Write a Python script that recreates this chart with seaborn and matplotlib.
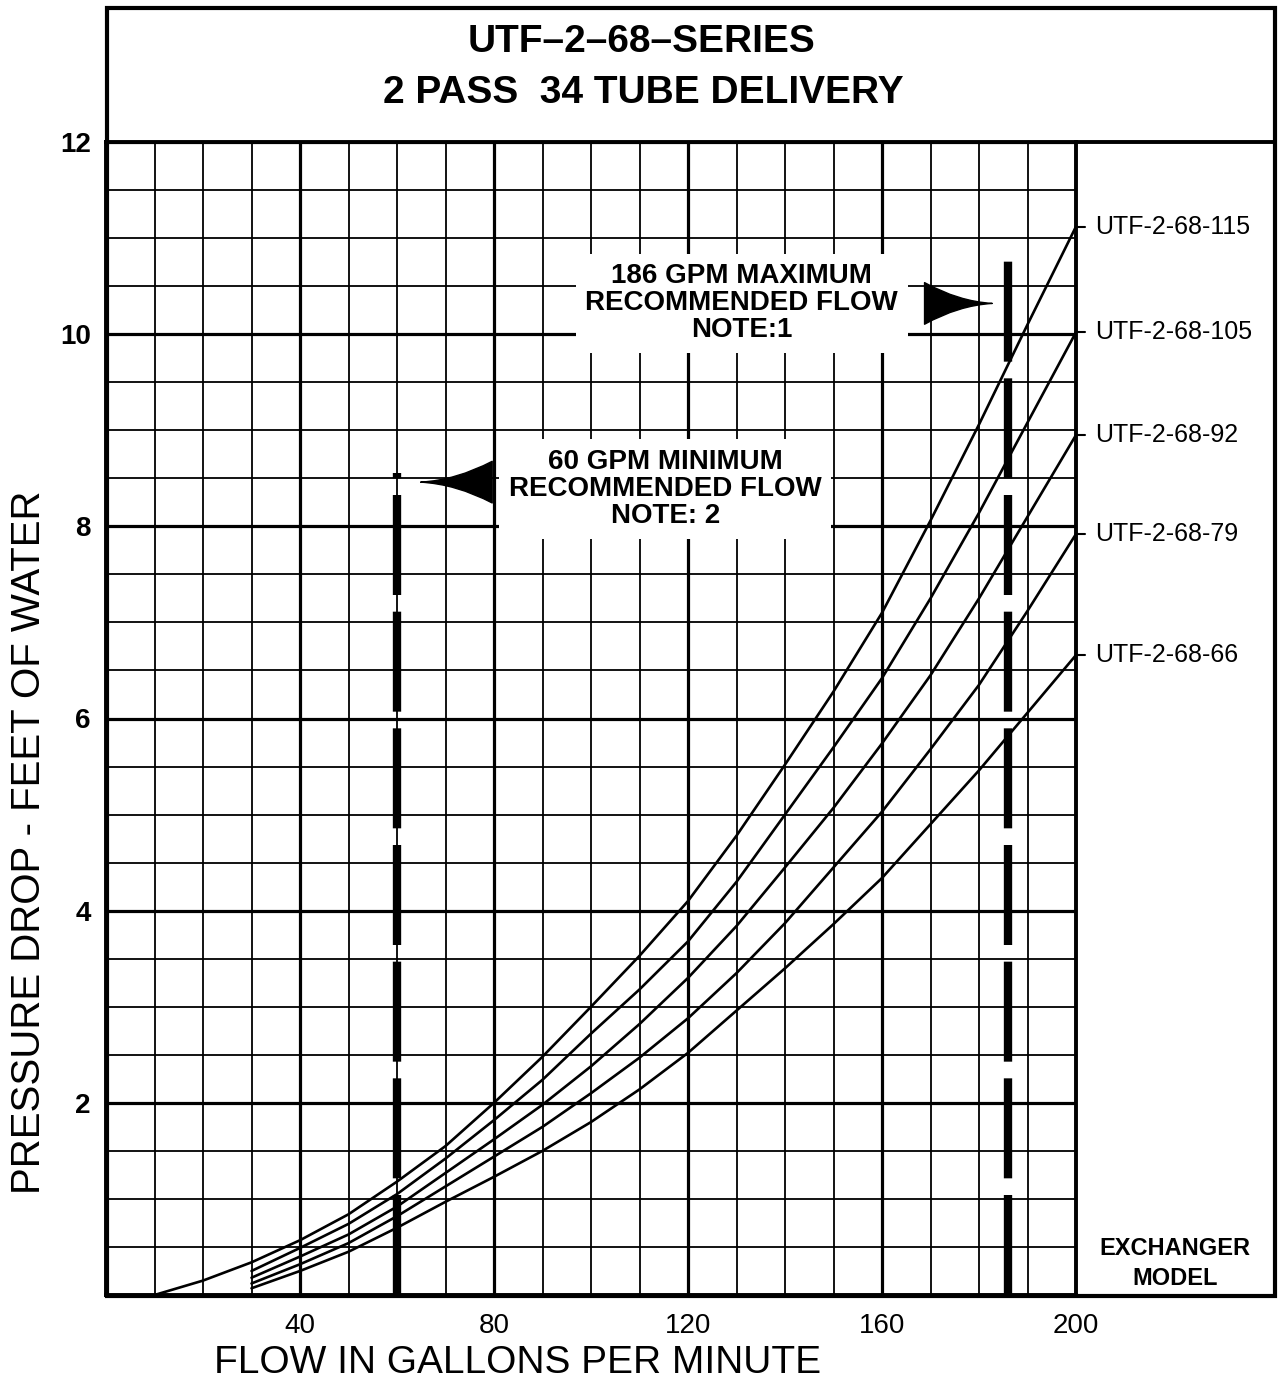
import matplotlib
matplotlib.use("Agg")
import matplotlib.pyplot as plt
import pandas as pd
import seaborn as sns
from matplotlib.lines import Line2D
from matplotlib.patches import Rectangle
from matplotlib.ticker import MultipleLocator


# flow (gpm) where the five exchanger curves are read
flow_gpm = [30, 40, 50, 60, 70, 80, 90, 100, 110, 120, 130, 140, 150, 160, 170, 180, 190, 200]

# shared lead-in below 30 gpm (drawn as part of the top curve)
lead_in_flow = [10, 20]
lead_in_drop = [0.0, 0.15]

# pressure drop, feet of water
drop_115 = [0.34, 0.57, 0.84, 1.18, 1.55, 2.00, 2.48, 3.00, 3.53, 4.10, 4.78, 5.52, 6.28, 7.10, 8.06, 9.06, 10.10, 11.12]
drop_105 = [0.25, 0.49, 0.74, 1.05, 1.42, 1.82, 2.24, 2.72, 3.18, 3.68, 4.30, 5.00, 5.70, 6.42, 7.25, 8.14, 9.08, 10.02]
drop_92 = [0.18, 0.40, 0.63, 0.92, 1.27, 1.62, 1.98, 2.38, 2.82, 3.30, 3.84, 4.45, 5.07, 5.74, 6.45, 7.25, 8.10, 8.95]
drop_79 = [0.12, 0.32, 0.54, 0.82, 1.13, 1.44, 1.75, 2.10, 2.47, 2.88, 3.35, 3.87, 4.45, 5.03, 5.68, 6.35, 7.12, 7.92]
drop_66 = [0.07, 0.25, 0.45, 0.70, 0.97, 1.23, 1.50, 1.80, 2.14, 2.52, 2.96, 3.40, 3.86, 4.34, 4.90, 5.46, 6.06, 6.66]

models = ["UTF-2-68-115", "UTF-2-68-105", "UTF-2-68-92", "UTF-2-68-79", "UTF-2-68-66"]

x_ticks = [40, 80, 120, 160, 200]
y_ticks = [2, 4, 6, 8, 10, 12]

min_flow, min_flow_top = 60, 8.55
max_flow, max_flow_top = 186, 10.8

min_note = "60 GPM MINIMUM\nRECOMMENDED FLOW\nNOTE: 2"
min_note_pos = (115.3, 8.39)
min_arrow_tip, min_arrow_tail = (64.3, 8.46), (80.2, 8.46)

max_note = "186 GPM MAXIMUM\nRECOMMENDED FLOW\nNOTE:1"
max_note_pos = (131.1, 10.32)
max_arrow_tip, max_arrow_tail = (183.3, 10.32), (168.2, 10.32)

W, H = 1278, 1381


def build_frame() -> pd.DataFrame:
    drops = [drop_115, drop_105, drop_92, drop_79, drop_66]
    frames = []
    for i, (model, drop) in enumerate(zip(models, drops)):
        flows = list(flow_gpm)
        values = list(drop)
        if i == 0:
            flows = lead_in_flow + flows
            values = lead_in_drop + values
        frames.append(pd.DataFrame({"flow": flows, "drop": values, "model": model}))
    return pd.concat(frames, ignore_index=True)


def main() -> None:
    sns.set_style("white")
    plt.rcParams["font.family"] = ["Liberation Sans", "DejaVu Sans"]
    plt.rcParams["text.color"] = "black"
    plt.rcParams["axes.labelcolor"] = "black"

    df = build_frame()

    fig = plt.figure(figsize=(W / 100, H / 100), dpi=100)
    left, right, top, bottom = 106, 1076, 142, 1295
    ax = fig.add_axes([left / W, 1 - bottom / H, (right - left) / W, (bottom - top) / H])

    ax.set_xlim(0, 200)
    ax.set_ylim(0, 12)
    ax.set_xticks(x_ticks)
    ax.set_yticks(y_ticks)
    ax.xaxis.set_minor_locator(MultipleLocator(10))
    ax.yaxis.set_minor_locator(MultipleLocator(0.5))
    ax.set_axisbelow(True)
    ax.grid(which="major", color="black", linewidth=2.3)
    ax.grid(which="minor", color="black", linewidth=1.3)
    ax.tick_params(which="minor", length=0)
    ax.tick_params(axis="x", which="major", labelsize=20, length=5, width=1.5, pad=8, colors="black")
    ax.tick_params(axis="y", which="major", labelsize=20, length=4, width=1.5, pad=7, colors="black")
    for lbl in ax.get_yticklabels():
        lbl.set_fontweight("bold")
    for spine in ax.spines.values():
        spine.set_color("black")
        spine.set_linewidth(2.8)

    sns.lineplot(
        data=df,
        x="flow",
        y="drop",
        hue="model",
        palette={m: "black" for m in models},
        estimator=None,
        sort=False,
        legend=False,
        linewidth=1.9,
        ax=ax,
        zorder=3,
    )

    # recommended flow limits
    for flow, top_val in [(min_flow, min_flow_top), (max_flow, max_flow_top)]:
        ax.plot([flow, flow], [0, top_val], color="black", linewidth=6,
                linestyle=(0, (12, 2)), dash_capstyle="butt", zorder=2.5)

    note_box = dict(boxstyle="square,pad=0.35", fc="white", ec="none")
    ax.text(*min_note_pos, min_note, ha="center", va="center", fontsize=20,
            fontweight="bold", linespacing=1.05, bbox=note_box, zorder=4)
    ax.text(*max_note_pos, max_note, ha="center", va="center", fontsize=20,
            fontweight="bold", linespacing=1.05, bbox=note_box, zorder=4)

    wedge = dict(arrowstyle="wedge,tail_width=1.5,shrink_factor=0.3",
                 fc="black", ec="black", mutation_scale=20)
    ax.annotate("", xy=min_arrow_tip, xytext=min_arrow_tail, arrowprops=wedge, zorder=5)
    ax.annotate("", xy=max_arrow_tip, xytext=max_arrow_tail, arrowprops=wedge, zorder=5)

    # model labels on the right margin
    ends = [drop_115[-1], drop_105[-1], drop_92[-1], drop_79[-1], drop_66[-1]]
    for model, end in zip(models, ends):
        ax.plot([200, 201.8], [end, end], color="black", linewidth=1.5, clip_on=False)
        ax.text(204, end, model, ha="left", va="center", fontsize=18, clip_on=False)
    ax.text(220.4, 0.33, "EXCHANGER\nMODEL", ha="center", va="center", fontsize=17,
            fontweight="bold", linespacing=1.4, clip_on=False)

    ax.set_xlabel("FLOW IN GALLONS PER MINUTE", fontsize=28)
    ax.xaxis.set_label_coords(0.424, -0.059)
    ax.xaxis.label.set_va("center")
    ax.set_ylabel("PRESSURE DROP - FEET OF WATER", fontsize=29)
    ax.yaxis.set_label_coords(-0.079, 0.393)
    ax.yaxis.label.set_va("center")

    # title block and outer frame
    fig.text(641 / W, 1 - 42 / H, "UTF–2–68–SERIES", ha="center", va="center",
             fontsize=28, fontweight="bold")
    fig.text(643 / W, 1 - 93 / H, "2 PASS  34 TUBE DELIVERY", ha="center", va="center",
             fontsize=28, fontweight="bold")
    fig.add_artist(Rectangle((107 / W, 1 - 1296 / H), (1275 - 107) / W, (1296 - 8) / H,
                             transform=fig.transFigure, fill=False, ec="black", lw=3))
    fig.add_artist(Line2D([right / W, 1275 / W], [1 - top / H, 1 - top / H],
                          transform=fig.transFigure, color="black", lw=2.8))

    fig.savefig("out.png", dpi=100)
    plt.close(fig)


if __name__ == "__main__":
    main()
